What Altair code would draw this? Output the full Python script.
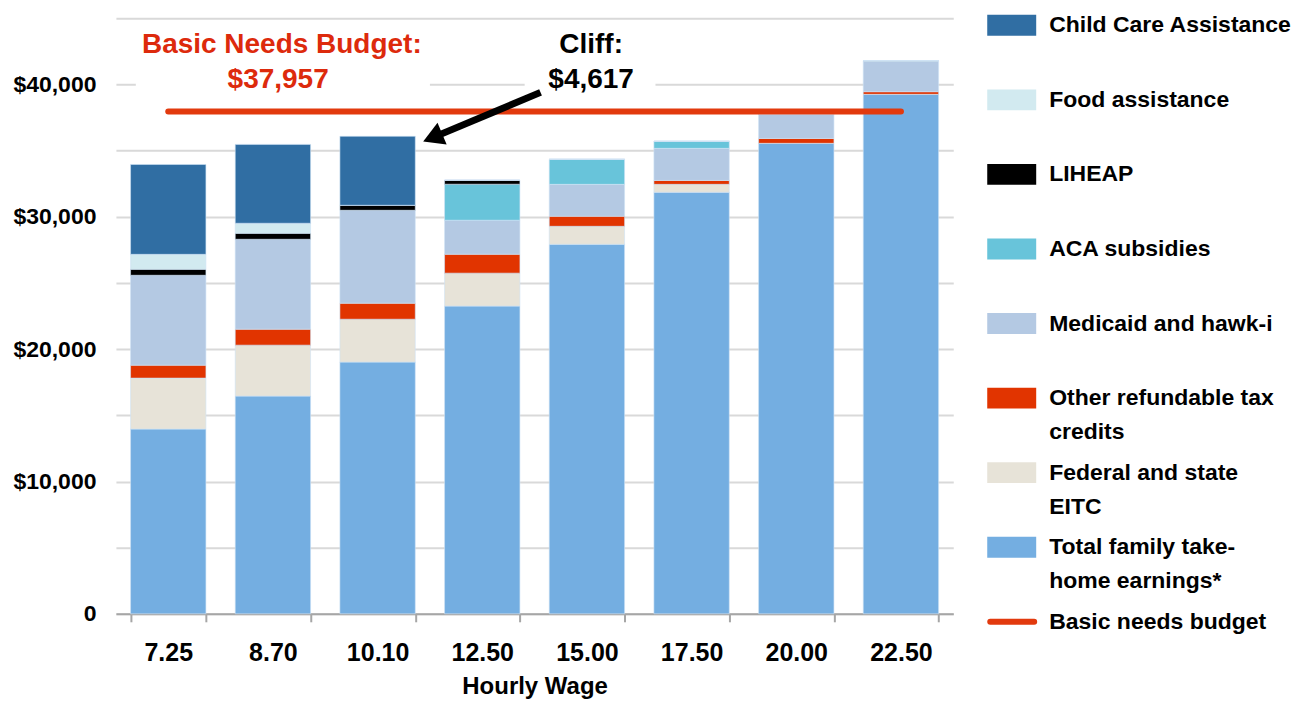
import altair as alt
import pandas as pd

FONT = "Liberation Sans, Arial, sans-serif"

wages = ["7.25", "8.70", "10.10", "12.50", "15.00", "17.50", "20.00", "22.50"]

# stacked components (bottom to top)
earnings = [13960, 16450, 19020, 23250, 27920, 31850, 35550, 39250]
eitc = [3850, 3850, 3240, 2490, 1360, 600, 0, 0]
other_tax = [980, 1210, 1210, 1430, 760, 300, 370, 200]
medicaid = [6790, 6790, 7020, 2570, 2410, 2420, 1830, 2340]
aca = [0, 0, 0, 2720, 1890, 530, 0, 0]
liheap = [450, 450, 380, 300, 0, 0, 0, 0]
food = [1130, 760, 0, 0, 0, 0, 0, 0]
child_care = [6790, 5960, 5210, 0, 0, 0, 0, 0]

basic_needs = 37957

components = [
    "Total family take-home earnings*",
    "Federal and state EITC",
    "Other refundable tax credits",
    "Medicaid and hawk-i",
    "ACA subsidies",
    "LIHEAP",
    "Food assistance",
    "Child Care Assistance",
]
series = [earnings, eitc, other_tax, medicaid, aca, liheap, food, child_care]
colors = ["#74aee1", "#e7e3d8", "#e13400", "#b4c9e3", "#68c4da", "#000000", "#d2eaf0", "#306ea3"]
budget_color = "#e23a0e"
annot_red = "#dd2a0c"

# legend (top to bottom)
legend_line1 = ["Child Care Assistance", "Food assistance", "LIHEAP", "ACA subsidies",
                "Medicaid and hawk-i", "Other refundable tax", "Federal and state",
                "Total family take-", "Basic needs budget"]
legend_line2 = ["", "", "", "", "", "credits", "EITC", "home earnings*", ""]
legend_keys = ["Child Care Assistance", "Food assistance", "LIHEAP", "ACA subsidies",
               "Medicaid and hawk-i", "Other refundable tax credits", "Federal and state EITC",
               "Total family take-home earnings*"]

annot_text = ["Basic Needs Budget:", "$37,957", "Cliff:", "$4,617"]
annot_x = [1.085, 1.05, 4.04, 4.04]
annot_y = [43000, 40300, 43000, 40300]
annot_col = [annot_red, annot_red, "#000000", "#000000"]

# white boxes behind the annotations
box_x = [-0.31, 3.405]
box_x2 = [2.5, 4.655]
box_y = [38800, 38800]
box_y2 = [44000, 44000]

# arrow: tail -> head centre
arrow_x = [3.557, 2.526]
arrow_y = [39400, 35980]

rows = []
for ci, (comp, vals) in enumerate(zip(components, series)):
    for w, v in zip(wages, vals):
        rows.append({"wage": w, "component": comp, "value": v, "order": ci})
df = pd.DataFrame(rows)

yscale = alt.Scale(domain=[0, 45000], nice=False)
axq = alt.Scale(domain=[-0.5, len(wages) - 0.5], nice=False, zero=False)

bars = alt.Chart(df).mark_bar(stroke="#cfe3f5", strokeWidth=0.6).encode(
    x=alt.X("wage:N", sort=wages,
            scale=alt.Scale(paddingInner=0.28, paddingOuter=0.14),
            axis=alt.Axis(title="Hourly Wage", labelAngle=0, tickBand="extent",
                          domainColor="#a6a6a6", domainWidth=2, tickColor="#a6a6a6",
                          tickWidth=2, tickSize=8, labelFontSize=25, labelPadding=19,
                          titleFontSize=24, titlePadding=9, grid=False)),
    y=alt.Y("value:Q", stack="zero", scale=yscale,
            axis=alt.Axis(values=list(range(0, 45001, 5000)),
                          labelExpr="datum.value % 10000 == 0 ? (datum.value == 0 ? '0' : '$' + format(datum.value, ',')) : ''",
                          grid=True, gridColor="#d9d9d9", gridWidth=2, ticks=False,
                          domain=False, labelFontSize=23, labelPadding=20, title=None)),
    color=alt.Color("component:N", scale=alt.Scale(domain=components, range=colors), legend=None),
    order=alt.Order("order:Q", sort="ascending"),
)

box_df = pd.DataFrame({"ax": box_x, "ax2": box_x2, "value": box_y, "value2": box_y2})
boxes = alt.Chart(box_df).mark_rect(color="white").encode(
    x=alt.X("ax:Q", scale=axq, axis=None), x2="ax2:Q",
    y=alt.Y("value:Q", scale=yscale), y2="value2:Q",
)

budget_df = pd.DataFrame({"ax": [0], "ax2": [len(wages) - 1], "value": [basic_needs]})
budget = alt.Chart(budget_df).mark_rule(color=budget_color, strokeWidth=6, strokeCap="round").encode(
    x=alt.X("ax:Q", scale=axq, axis=None), x2="ax2:Q",
    y=alt.Y("value:Q", scale=yscale),
)

text_df = pd.DataFrame({"ax": annot_x, "value": annot_y, "label": annot_text, "col": annot_col})
texts = alt.Chart(text_df).mark_text(font=FONT, fontSize=28, fontWeight="bold", baseline="middle", align="center").encode(
    x=alt.X("ax:Q", scale=axq, axis=None),
    y=alt.Y("value:Q", scale=yscale),
    text="label:N",
    color=alt.Color("col:N", scale=None),
)

arrow_df = pd.DataFrame({"ax": arrow_x, "value": arrow_y, "i": [0, 1]})
arrow_line = alt.Chart(arrow_df).mark_line(color="black", strokeWidth=7).encode(
    x=alt.X("ax:Q", scale=axq, axis=None),
    y=alt.Y("value:Q", scale=yscale),
    order="i:Q",
)
arrow_head = alt.Chart(arrow_df.iloc[[1]]).mark_point(
    shape="triangle-up", filled=True, size=560, angle=247.3, color="black", opacity=1
).encode(
    x=alt.X("ax:Q", scale=axq, axis=None),
    y=alt.Y("value:Q", scale=yscale),
)

main = alt.layer(bars, boxes, budget, texts, arrow_line, arrow_head).resolve_scale(
    x="independent"
).properties(width=838, height=596)

# legend panel
color_of = dict(zip(components, colors))
n_leg = len(legend_line1)
leg_df = pd.DataFrame({
    "li": list(range(n_leg)),
    "l1": legend_line1,
    "l2": legend_line2,
})
sw_df = pd.DataFrame({
    "li0": [i - 0.14 for i in range(len(legend_keys))],
    "li1": [i + 0.14 for i in range(len(legend_keys))],
    "col": [color_of[k] for k in legend_keys],
})
lscale = alt.Scale(domain=[0, n_leg - 1], range=[7, 604])

swatches = alt.Chart(sw_df).mark_rect().encode(
    x=alt.value(0), x2=alt.value(49),
    y=alt.Y("li0:Q", scale=lscale, axis=None), y2="li1:Q",
    color=alt.Color("col:N", scale=None),
)
leg_rule = alt.Chart(leg_df.iloc[[n_leg - 1]]).mark_rule(color=budget_color, strokeWidth=6, strokeCap="round").encode(
    x=alt.value(3), x2=alt.value(47),
    y=alt.Y("li:Q", scale=lscale, axis=None),
)
leg_t1 = alt.Chart(leg_df).mark_text(font=FONT, fontSize=23, fontWeight="bold", align="left", baseline="middle", color="black").encode(
    x=alt.value(62), y=alt.Y("li:Q", scale=lscale, axis=None), text="l1:N",
)
leg_t2 = alt.Chart(leg_df).mark_text(font=FONT, fontSize=23, fontWeight="bold", align="left", baseline="middle", color="black", dy=34).encode(
    x=alt.value(62), y=alt.Y("li:Q", scale=lscale, axis=None), text="l2:N",
)
legend = alt.layer(swatches, leg_rule, leg_t1, leg_t2).properties(width=290, height=596)

chart = alt.hconcat(main, legend, spacing=34).properties(
    padding={"left": 4, "top": 6, "right": 0, "bottom": 0}
).configure_view(stroke=None).configure_axis(
    labelFont=FONT, titleFont=FONT, labelFontWeight="bold", titleFontWeight="bold",
    labelColor="#000000", titleColor="#000000"
)

chart.save("out.html", embed_options={"renderer": "svg", "actions": False})
